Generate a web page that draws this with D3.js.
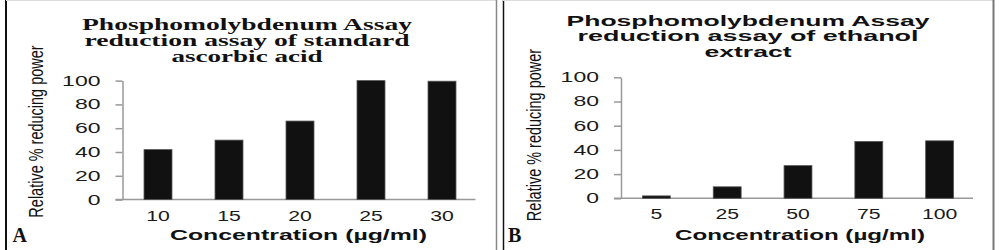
<!DOCTYPE html>
<html>
<head>
<meta charset="utf-8">
<script src="https://cdn.jsdelivr.net/npm/d3@7"></script>
<style>
  html, body { margin: 0; padding: 0; background: #fff; }
  svg { display: block; }
</style>
</head>
<body>
<svg id="chart" width="1008" height="250"></svg>
<script>
// ---- data ----
const concA = ["10", "15", "20", "25", "30"];
const valuesA = [42, 50, 66, 100, 99.5];
const concB = ["5", "25", "50", "75", "100"];
const valuesB = [2, 9.5, 27, 47, 47.5];
const yTicks = [0, 20, 40, 60, 80, 100];
const titleA = ["Phosphomolybdenum Assay", "reduction assay of standard", "ascorbic acid"];
const titleB = ["Phosphomolybdenum Assay", "reduction assay of ethanol", "extract"];
const yTitle = "Relative % reducing power";
const xTitle = "Concentration (µg/ml)";
const panelLetters = ["A", "B"];

const svg = d3.select("#chart");

// frames
svg.append("line").attr("x1", 6).attr("x2", 6).attr("y1", 0).attr("y2", 250).attr("stroke", "#111").attr("stroke-width", 2);
svg.append("line").attr("x1", 6).attr("x2", 497).attr("y1", 0.5).attr("y2", 0.5).attr("stroke", "#ddd").attr("stroke-width", 1);
svg.append("line").attr("x1", 496.5).attr("x2", 496.5).attr("y1", 0).attr("y2", 250).attr("stroke", "#888").attr("stroke-width", 1.5);
svg.append("line").attr("x1", 503.5).attr("x2", 503.5).attr("y1", 0).attr("y2", 250).attr("stroke", "#111").attr("stroke-width", 1.5);
svg.append("line").attr("x1", 503).attr("x2", 994).attr("y1", 0.5).attr("y2", 0.5).attr("stroke", "#ddd").attr("stroke-width", 1);
svg.append("line").attr("x1", 993.5).attr("x2", 993.5).attr("y1", 0).attr("y2", 250).attr("stroke", "#777").attr("stroke-width", 2);

function drawPanel(cfg) {
  const g = svg.append("g");
  const x = d3.scaleBand().domain(cfg.cats).range(cfg.xRange).paddingInner(0.606).paddingOuter(0.303);
  const y = d3.scaleLinear().domain([0, 100]).range(cfg.yRange);

  // y axis
  const ya = g.append("g").attr("transform", `translate(${cfg.xRange[0]},0)`)
    .call(d3.axisLeft(y).tickValues(yTicks).tickSizeInner(7).tickSizeOuter(0).tickPadding(15));
  ya.selectAll("path, line").attr("stroke", "#999").attr("stroke-width", 1.5);
  ya.selectAll("text")
    .attr("font-family", "Liberation Sans, Arial, sans-serif")
    .attr("font-size", 14).attr("fill", "#1a1a1a")
    .attr("textLength", d => String(d).length * 12.8)
    .attr("lengthAdjust", "spacingAndGlyphs");

  // x axis
  const xa = g.append("g").attr("transform", `translate(0,${cfg.yRange[0]})`)
    .call(d3.axisBottom(x).tickSizeInner(0).tickSizeOuter(0).tickPadding(11));
  xa.select("path").attr("stroke", "#999").attr("stroke-width", 1.5)
    .attr("d", `M${cfg.xRange[0] - 7},0H${cfg.xRange[1] - 2}`);
  xa.selectAll("text")
    .attr("font-family", "Liberation Sans, Arial, sans-serif")
    .attr("font-size", 14).attr("fill", "#1a1a1a")
    .attr("textLength", d => String(d).length * 11.8)
    .attr("lengthAdjust", "spacingAndGlyphs");

  // bars
  g.selectAll("rect.bar").data(cfg.vals).join("rect")
    .attr("class", "bar")
    .attr("x", (d, i) => x(cfg.cats[i]))
    .attr("width", x.bandwidth())
    .attr("y", d => y(d))
    .attr("height", d => y(0) - y(d))
    .attr("fill", "#111")
    .attr("stroke", "#555").attr("stroke-width", 0.8);

  // title
  cfg.title.forEach((t, i) => {
    g.append("text").text(t)
      .attr("x", cfg.titleX).attr("y", cfg.titleY[i])
      .attr("text-anchor", "middle")
      .attr("font-family", cfg.titleFont).attr("font-weight", "bold")
      .attr("font-size", cfg.titleSize).attr("fill", "#111")
      .attr("textLength", cfg.titleW[i]).attr("lengthAdjust", "spacingAndGlyphs");
  });

  // y title (condensed)
  g.append("text").text(yTitle)
    .attr("transform", `translate(${cfg.yTitleX},${cfg.yTitleY}) rotate(-90) scale(0.69,1)`)
    .attr("text-anchor", "middle")
    .attr("font-family", "Liberation Sans, Arial, sans-serif")
    .attr("font-size", 21).attr("fill", "#111");

  // x title
  g.append("text").text(xTitle)
    .attr("x", cfg.xTitleX).attr("y", 239.5)
    .attr("text-anchor", "middle")
    .attr("font-family", "Liberation Sans, Arial, sans-serif")
    .attr("font-weight", "bold")
    .attr("font-size", 15).attr("fill", "#111")
    .attr("textLength", cfg.xTitleW).attr("lengthAdjust", "spacingAndGlyphs");

  // panel letter
  g.append("text").text(cfg.letter)
    .attr("x", cfg.letterX).attr("y", 242)
    .attr("font-family", "Liberation Serif, Times New Roman, serif")
    .attr("font-weight", "bold")
    .attr("font-size", 20).attr("fill", "#111");
}

drawPanel({
  cats: concA, vals: valuesA,
  xRange: [122.5, 477.5], yRange: [199.6, 80.6],
  title: titleA, titleX: 247, titleY: [30, 45.5, 61.5], titleW: [330, 325, 151],
  titleFont: "Liberation Serif, Times New Roman, serif", titleSize: 16,
  yTitleX: 43, yTitleY: 131.5,
  xTitleX: 298.5, xTitleW: 257,
  letter: panelLetters[0], letterX: 12.5
});

drawPanel({
  cats: concB, vals: valuesB,
  xRange: [621, 975], yRange: [198.3, 77.3],
  title: titleB, titleX: 748, titleY: [26, 41, 57], titleW: [363, 341, 87],
  titleFont: "Liberation Sans, Arial, sans-serif", titleSize: 15,
  yTitleX: 540.5, yTitleY: 135,
  xTitleX: 800, xTitleW: 250,
  letter: panelLetters[1], letterX: 508
});
</script>
</body>
</html>
